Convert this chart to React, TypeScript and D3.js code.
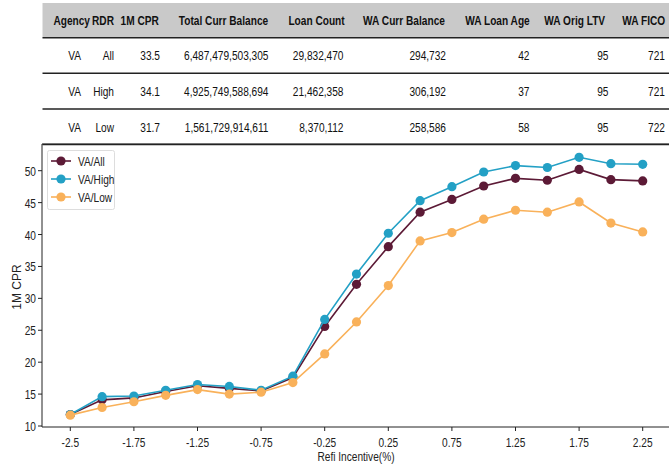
import React from "react";
import * as d3 from "d3";

const categories = ["-2.5", "-2", "-1.75", "-1.5", "-1.25", "-1", "-0.75", "-0.5", "-0.25", "0", "0.25", "0.5", "0.75", "1", "1.25", "1.5", "1.75", "2", "2.25"];
const tickLabels = ["-2.5", "-1.75", "-1.25", "-0.75", "-0.25", "0.25", "0.75", "1.25", "1.75", "2.25"];
const vaAll = [11.8, 14.1, 14.4, 15.4, 16.3, 15.9, 15.5, 17.6, 25.6, 32.2, 38.1, 43.5, 45.5, 47.6, 48.8, 48.5, 50.2, 48.6, 48.4];
const vaHigh = [11.8, 14.6, 14.7, 15.6, 16.5, 16.2, 15.6, 17.8, 26.7, 33.8, 40.2, 45.3, 47.5, 49.8, 50.8, 50.5, 52.1, 51.1, 51.0];
const vaLow = [11.7, 12.9, 13.8, 14.8, 15.7, 15.0, 15.3, 16.8, 21.3, 26.3, 32.0, 39.0, 40.3, 42.4, 43.8, 43.5, 45.1, 41.8, 40.4];
const seriesNames = ["VA/All", "VA/High", "VA/Low"];
const seriesColors = ["#5c1a36", "#23a0c5", "#f9b15a"];
const yTicks = [10, 15, 20, 25, 30, 35, 40, 45, 50];

const tableHeaders = ["Agency", "RDR", "1M CPR", "Total Curr Balance", "Loan Count", "WA Curr Balance", "WA Loan Age", "WA Orig LTV", "WA FICO"];
const tableRows = [
  ["VA", "All", "33.5", "6,487,479,503,305", "29,832,470", "294,732", "42", "95", "721"],
  ["VA", "High", "34.1", "4,925,749,588,694", "21,462,358", "306,192", "37", "95", "721"],
  ["VA", "Low", "31.7", "1,561,729,914,611", "8,370,112", "258,586", "58", "95", "722"],
];

const W = 669;
const H = 468;
const FONT = "'Liberation Sans Narrow', 'Arial Narrow', 'Liberation Sans', Arial, sans-serif";
const SX = 0.78;

// table layout
const headerCenters = [71.7, 103, 139.7, 223.5, 316.5, 404, 497.5, 574.7, 643.7];
const cellRights = [81, 114, 160, 268.5, 343.5, 446, 529.5, 608.5, 665];
const rowYs = [55, 91, 127];
const lineYs = [37.7, 73.3, 109, 144.5];

function NText(props: {
  x: number;
  y: number;
  anchor?: "start" | "middle" | "end";
  size?: number;
  bold?: boolean;
  fill?: string;
  rotate?: number;
  sx?: number;
  children: React.ReactNode;
}) {
  const { x, y, anchor = "start", size = 12, bold = false, fill = "#222", rotate = 0, sx = SX, children } = props;
  return (
    <text
      transform={`translate(${x},${y})${rotate ? ` rotate(${rotate})` : ""} scale(${sx},1)`}
      textAnchor={anchor}
      dominantBaseline="central"
      fontSize={size}
      fontWeight={bold ? "bold" : "normal"}
      fill={fill}
    >
      {children}
    </text>
  );
}

export default function App() {
  const plot = { left: 42, right: 671, top: 144, bottom: 427 };
  const x = d3.scalePoint<string>().domain(categories).range([70.3, 642.7]);
  const y = d3.scaleLinear().domain([10, 50]).range([426, 170.7]);
  const line = d3
    .line<number>()
    .x((_, i) => x(categories[i]) as number)
    .y((d) => y(d));
  const allSeries = [vaAll, vaHigh, vaLow];

  return (
    <svg
      width={W}
      height={H}
      style={{ position: "absolute", left: 0, top: 0, background: "#fff" }}
      fontFamily={FONT}
    >
      <rect x={0} y={0} width={W} height={H} fill="#fff" />
      {/* table */}
      <rect x={42.5} y={3} width={W - 42.5} height={34.7} fill="#c9c9c9" />
      {tableHeaders.map((h, i) => (
        <NText key={h} x={headerCenters[i]} y={20} anchor="middle" size={13} bold fill="#111">
          {h}
        </NText>
      ))}
      {lineYs.map((ly, i) => (
        <line key={i} x1={42.5} x2={W} y1={ly} y2={ly} stroke="#222" strokeWidth={1.5} />
      ))}
      {tableRows.map((row, r) =>
        row.map((c, i) => (
          <NText key={r + "-" + i} x={cellRights[i]} y={rowYs[r]} anchor="end" size={13} fill="#111">
            {c}
          </NText>
        ))
      )}

      {/* axes frame */}
      <line x1={plot.left} x2={plot.right} y1={plot.top} y2={plot.top} stroke="#222" strokeWidth={1} />
      <line x1={plot.left} x2={plot.left} y1={plot.top} y2={plot.bottom} stroke="#222" strokeWidth={1} />
      <line x1={plot.left} x2={plot.right} y1={plot.bottom} y2={plot.bottom} stroke="#222" strokeWidth={1} />

      {/* y ticks */}
      {yTicks.map((t) => (
        <g key={t}>
          <line x1={plot.left - 4} x2={plot.left} y1={y(t)} y2={y(t)} stroke="#222" />
          <NText x={plot.left - 6} y={y(t)} anchor="end" size={13}>
            {t}
          </NText>
        </g>
      ))}
      {/* x ticks */}
      {tickLabels.map((t) => (
        <g key={t}>
          <line x1={x(t)} x2={x(t)} y1={plot.bottom} y2={plot.bottom + 4} stroke="#222" />
          <NText x={x(t) as number} y={plot.bottom + 15} anchor="middle" size={13}>
            {t}
          </NText>
        </g>
      ))}
      <NText x={356} y={456} anchor="middle" size={13}>
        Refi Incentive(%)
      </NText>
      <NText x={17} y={287} anchor="middle" size={12} rotate={-90} sx={1}>
        1M CPR
      </NText>

      {/* series */}
      {allSeries.map((s, k) => (
        <g key={k}>
          <path d={line(s) as string} fill="none" stroke={seriesColors[k]} strokeWidth={1.6} />
          {s.map((v, i) => (
            <circle key={i} cx={x(categories[i])} cy={y(v)} r={4.6} fill={seriesColors[k]} />
          ))}
        </g>
      ))}

      {/* legend */}
      <rect x={47.5} y={150.5} width={67} height={59} fill="#fff" fillOpacity={0.85} stroke="#ddd" rx={2} />
      {seriesNames.map((n, i) => (
        <g key={n} transform={`translate(0, ${161 + i * 18})`}>
          <line x1={51} x2={71} y1={0} y2={0} stroke={seriesColors[i]} strokeWidth={1.6} />
          <circle cx={61} cy={0} r={4.6} fill={seriesColors[i]} />
          <NText x={78} y={0} size={13}>
            {n}
          </NText>
        </g>
      ))}
    </svg>
  );
}
